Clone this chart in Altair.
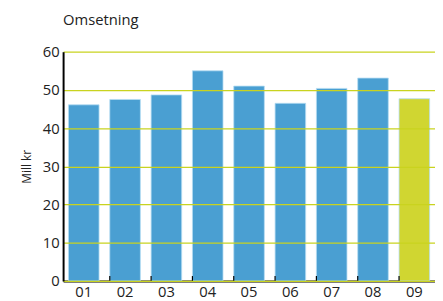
import altair as alt
import pandas as pd

months = ["01", "02", "03", "04", "05", "06", "07", "08", "09"]
values = [46.1, 47.5, 48.7, 55.0, 51.0, 46.5, 50.4, 53.1, 47.7]
highlight = [False, False, False, False, False, False, False, False, True]
y_ticks = [0, 10, 20, 30, 40, 50, 60]

df = pd.DataFrame({"month": months, "value": values, "hl": highlight})

FONT = "Open Sans"

x_enc = alt.X("month:N", sort=months, title=None,
              scale=alt.Scale(paddingInner=0.26, paddingOuter=0.13),
              axis=alt.Axis(labelFontSize=15, labelColor="#222222", labelFont=FONT,
                            labelAngle=0, ticks=False, domainColor="#000000",
                            domainWidth=2, labelPadding=4))

bars = alt.Chart(df).mark_bar(stroke="#b5dcf2", strokeWidth=1, strokeOpacity=0.8).encode(
    x=x_enc,
    y=alt.Y("value:Q", title="Mill kr",
            scale=alt.Scale(domain=[0, 60], nice=False),
            axis=alt.Axis(values=y_ticks, labelFontSize=15, labelColor="#222222",
                          labelFont=FONT, ticks=False, domainColor="#000000",
                          domainWidth=2, gridColor="#c9d31f", gridWidth=1.3,
                          titleFont=FONT, titleFontSize=12, titleFontWeight="normal",
                          titleColor="#222222", titlePadding=9, labelPadding=4,
                          zindex=1)),
    color=alt.Color("hl:N", scale=alt.Scale(domain=[False, True],
                                            range=["#4a9fd2", "#d0d631"]), legend=None),
)

ticks = alt.Chart(df[df["month"] != "01"]).mark_rule(color="#000000", strokeWidth=1.2).encode(
    x=alt.X("month:N", sort=months, bandPosition=0),
    y=alt.value(228),
    y2=alt.value(233),
)

chart = alt.layer(bars, ticks).properties(
    width=378, height=233,
    title=alt.TitleParams("Omsetning", anchor="start", frame="group", font=FONT,
                          fontSize=15, fontWeight="normal", color="#222222", offset=17),
    autosize=alt.AutoSizeParams(type="none"),
    padding={"left": 56, "top": 42, "right": 0, "bottom": 22},
).configure_view(stroke=None)

chart.save("out.html", embed_options={"renderer": "svg", "actions": False})
